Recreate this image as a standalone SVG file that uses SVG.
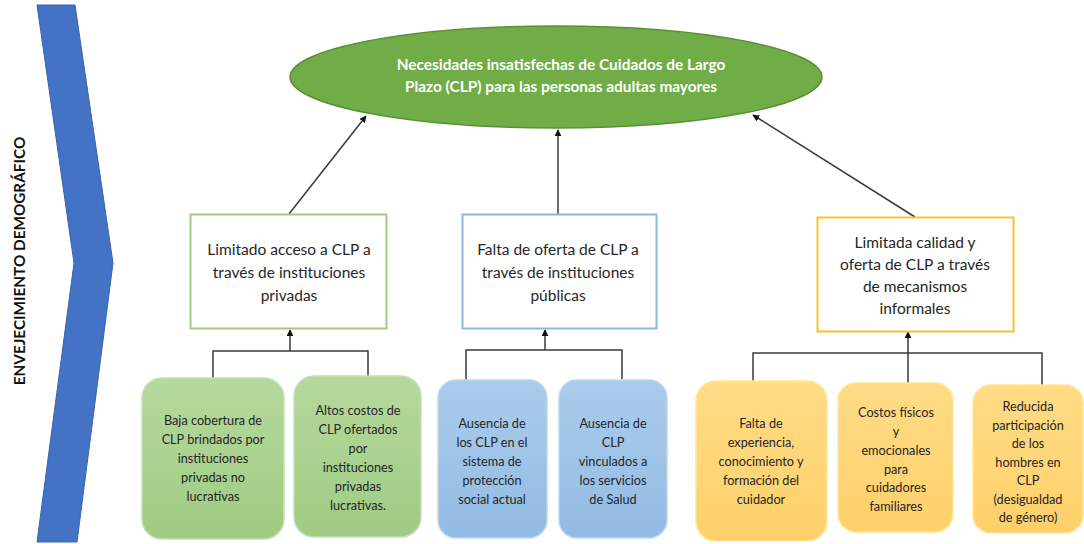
<svg xmlns="http://www.w3.org/2000/svg" width="1084" height="544" viewBox="0 0 1084 544">
<defs>
<style>
.t{font-family:Lato,"Open Sans","Liberation Sans",sans-serif;fill:#262626;text-anchor:middle}
.mid{font-size:15.5px}
.sm{font-size:12.7px}
.ttl{font-family:Lato,"Open Sans","Liberation Sans",sans-serif;font-weight:bold;font-size:15.4px;fill:#ffffff;text-anchor:middle}
.ln{fill:none;stroke:#3a3a3a;stroke-width:1.5}
.ar{fill:none;stroke:#3a3a3a;stroke-width:1.5;marker-end:url(#ah)}
</style>
<marker id="ah" viewBox="0 0 10 10" refX="9" refY="5" markerWidth="7" markerHeight="7" markerUnits="userSpaceOnUse" orient="auto">
<path d="M0,0 L10,5 L0,10 z" fill="#111"/>
</marker>
<linearGradient id="gg" x1="0" y1="0" x2="0" y2="1"><stop offset="0" stop-color="#B5D99D"/><stop offset="1" stop-color="#A0CB83"/></linearGradient>
<linearGradient id="gb" x1="0" y1="0" x2="0" y2="1"><stop offset="0" stop-color="#AACCEC"/><stop offset="1" stop-color="#92BBE3"/></linearGradient>
<linearGradient id="gy" x1="0" y1="0" x2="0" y2="1"><stop offset="0" stop-color="#FFDC86"/><stop offset="1" stop-color="#FFD06A"/></linearGradient>
</defs>
<rect width="1084" height="544" fill="#ffffff"/>

<g id="chevron">
<polygon points="37,5 75,5 113,263 77,542 37,542 74,263" fill="#4472C4" stroke="#3A64AE" stroke-width="1"/>
<text transform="translate(25,261) rotate(-90)" style="font-family:Lato,'Open Sans','Liberation Sans',sans-serif;font-weight:bold;font-size:15.3px;fill:#111;text-anchor:middle">ENVEJECIMIENTO  DEMOGRÁFICO</text>
</g>

<g id="connectors">
<line class="ar" x1="289" y1="214" x2="366" y2="116"/>
<line class="ar" x1="558" y1="214" x2="558" y2="130"/>
<line class="ar" x1="915" y1="217" x2="753" y2="115"/>
<polyline class="ln" points="213,378 213,351 368,351 368,376"/>
<line class="ar" x1="290" y1="351" x2="290" y2="330"/>
<polyline class="ln" points="466,380 466,350 622,350 622,379"/>
<line class="ar" x1="545" y1="350" x2="545" y2="330"/>
<polyline class="ln" points="753,381 753,353 1042,353 1042,385"/>
<line class="ar" x1="908" y1="353" x2="908" y2="332"/>
<line class="ln" x1="908" y1="353" x2="908" y2="383"/>
</g>

<g id="root">
<ellipse cx="556" cy="77" rx="266" ry="51" fill="#70AD47" stroke="#5A8F38" stroke-width="1.5"/>
<text class="ttl" x="561" y="70">Necesidades insatisfechas de Cuidados de Largo</text>
<text class="ttl" x="561" y="92">Plazo (CLP) para las personas adultas mayores</text>
</g>

<g id="box1">
<rect x="190.5" y="214.5" width="196" height="114" fill="#fff" stroke="#9DCB7E" stroke-width="2"/>
<text class="t mid" x="289" y="255">Limitado acceso a CLP a</text>
<text class="t mid" x="289" y="278">través de instituciones</text>
<text class="t mid" x="289" y="301">privadas</text>
</g>
<g id="box2">
<rect x="462.5" y="214.5" width="194" height="114" fill="#fff" stroke="#8BB6E2" stroke-width="2"/>
<text class="t mid" x="558" y="255">Falta de oferta de CLP a</text>
<text class="t mid" x="558" y="278">través de instituciones</text>
<text class="t mid" x="558" y="301">públicas</text>
</g>
<g id="box3">
<rect x="817.5" y="217.5" width="196" height="114" fill="#fff" stroke="#F7C32E" stroke-width="2"/>
<text class="t mid" x="915" y="248">Limitada calidad y</text>
<text class="t mid" x="915" y="270">oferta de CLP a través</text>
<text class="t mid" x="915" y="292">de mecanismos</text>
<text class="t mid" x="915" y="314">informales</text>
</g>

<g id="g1">
<rect x="142" y="378" width="142" height="161" rx="20" fill="url(#gg)" stroke="#C6E0B4" stroke-width="1.5"/>
<text class="t sm" x="213" y="425">Baja cobertura de</text>
<text class="t sm" x="213" y="444">CLP brindados por</text>
<text class="t sm" x="213" y="463">instituciones</text>
<text class="t sm" x="213" y="482">privadas no</text>
<text class="t sm" x="213" y="501">lucrativas</text>
</g>
<g id="g2">
<rect x="294" y="376" width="127" height="161" rx="20" fill="url(#gg)" stroke="#C6E0B4" stroke-width="1.5"/>
<text class="t sm" x="358" y="415">Altos costos de</text>
<text class="t sm" x="358" y="434">CLP ofertados</text>
<text class="t sm" x="358" y="453">por</text>
<text class="t sm" x="358" y="472">instituciones</text>
<text class="t sm" x="358" y="491">privadas</text>
<text class="t sm" x="358" y="510">lucrativas.</text>
</g>
<g id="b1">
<rect x="438" y="380" width="109" height="158" rx="18" fill="url(#gb)" stroke="#BDD7EE" stroke-width="1.5"/>
<text class="t sm" x="492" y="428">Ausencia de</text>
<text class="t sm" x="492" y="447">los CLP  en el</text>
<text class="t sm" x="492" y="466">sistema de</text>
<text class="t sm" x="492" y="485">protección</text>
<text class="t sm" x="492" y="504">social actual</text>
</g>
<g id="b2">
<rect x="559" y="380" width="108" height="158" rx="18" fill="url(#gb)" stroke="#BDD7EE" stroke-width="1.5"/>
<text class="t sm" x="613" y="428">Ausencia de</text>
<text class="t sm" x="613" y="447">CLP</text>
<text class="t sm" x="613" y="466">vinculados a</text>
<text class="t sm" x="613" y="485">los servicios</text>
<text class="t sm" x="613" y="504">de Salud</text>
</g>
<g id="y1">
<rect x="696" y="381" width="131" height="160" rx="20" fill="url(#gy)" stroke="#FFE699" stroke-width="1.5"/>
<text class="t sm" x="761" y="428">Falta de</text>
<text class="t sm" x="761" y="447">experiencia,</text>
<text class="t sm" x="761" y="466">conocimiento y</text>
<text class="t sm" x="761" y="485">formación del</text>
<text class="t sm" x="761" y="504">cuidador</text>
</g>
<g id="y2">
<rect x="838" y="383" width="115" height="149" rx="18" fill="url(#gy)" stroke="#FFE699" stroke-width="1.5"/>
<text class="t sm" x="896" y="417">Costos físicos</text>
<text class="t sm" x="896" y="436">y</text>
<text class="t sm" x="896" y="455">emocionales</text>
<text class="t sm" x="896" y="474">para</text>
<text class="t sm" x="896" y="492">cuidadores</text>
<text class="t sm" x="896" y="511">familiares</text>
</g>
<g id="y3">
<rect x="973" y="385" width="110" height="148" rx="18" fill="url(#gy)" stroke="#FFE699" stroke-width="1.5"/>
<text class="t sm" x="1028" y="411">Reducida</text>
<text class="t sm" x="1028" y="430">participación</text>
<text class="t sm" x="1028" y="448">de los</text>
<text class="t sm" x="1028" y="467">hombres en</text>
<text class="t sm" x="1028" y="485">CLP</text>
<text class="t sm" x="1028" y="504">(desigualdad</text>
<text class="t sm" x="1028" y="522">de género)</text>
</g>
</svg>
